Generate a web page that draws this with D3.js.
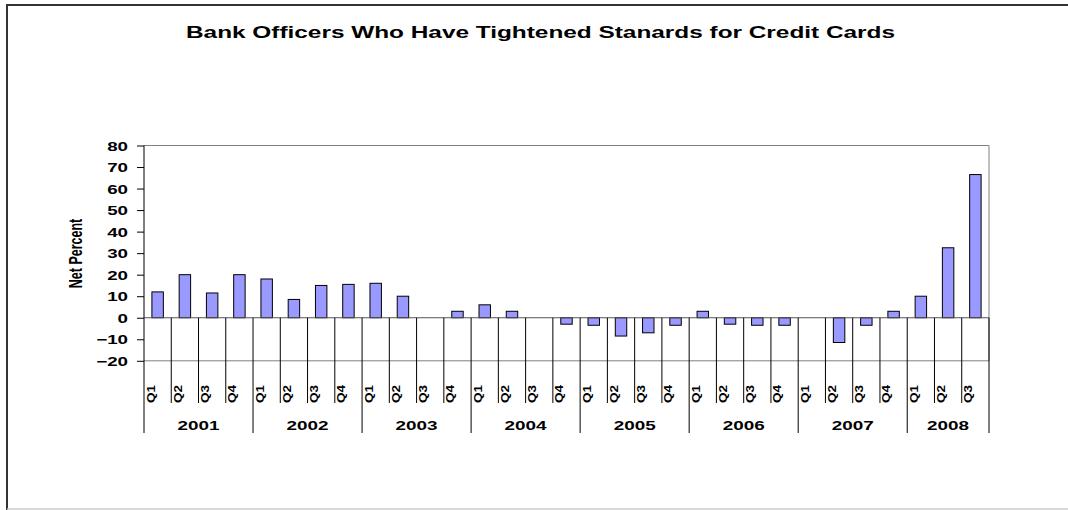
<!DOCTYPE html>
<html>
<head>
<meta charset="utf-8">
<script src="https://cdn.jsdelivr.net/npm/d3@7"></script>
<style>
  html, body { margin: 0; padding: 0; background: #fff; }
  svg { display: block; font-family: Arial, "Liberation Sans", sans-serif; }
</style>
</head>
<body>
<svg id="chart" width="1068" height="510"></svg>
<script>
const title = "Bank Officers Who Have Tightened Stanards for Credit Cards";
const yLabel = "Net Percent";
const years = ["2001","2002","2003","2004","2005","2006","2007","2008"];
const quarters = ["Q1","Q2","Q3","Q4"];
const quartersPerYear = [4,4,4,4,4,4,4,3];
const values = [12, 20, 11.5, 20,
                18, 8.5, 15, 15.5,
                16, 10, 0, 3,
                6, 3, 0, -3,
                -3.5, -8.5, -7, -3.5,
                3, -3, -3.5, -3.5,
                0, -11.5, -3.5, 3,
                10, 32.5, 66.5];
const yTicks = [-20, -10, 0, 10, 20, 30, 40, 50, 60, 70, 80];

// build category table
const cats = [];
years.forEach((y, i) => {
  for (let q = 0; q < quartersPerYear[i]; q++) cats.push({year: y, q: quarters[q]});
});
cats.forEach((c, i) => { c.value = values[i]; c.id = c.year + "-" + c.q; });

const svg = d3.select("#chart");
const L = 144, R = 989, T = 145.5, B = 360.8;
const x = d3.scaleBand().domain(cats.map(d => d.id)).range([L, R]).padding(0);
const y = d3.scaleLinear().domain([-20, 80]).range([B, T]);
const sx = 1.5;

// outer frame
svg.append("line").attr("x1", 7).attr("x2", 1068).attr("y1", 5).attr("y2", 5).attr("stroke", "#333").attr("stroke-width", 2);
svg.append("line").attr("x1", 7).attr("x2", 7).attr("y1", 4).attr("y2", 510).attr("stroke", "#333").attr("stroke-width", 2);
svg.append("line").attr("x1", 7).attr("x2", 1068).attr("y1", 509).attr("y2", 509).attr("stroke", "#ccc").attr("stroke-width", 1.5);

// title
svg.append("text")
  .attr("x", 540.5).attr("y", 37.5)
  .attr("text-anchor", "middle")
  .attr("font-size", 17).attr("font-weight", "bold")
  .attr("textLength", 709).attr("lengthAdjust", "spacingAndGlyphs")
  .text(title);

// plot area border (top, right, bottom)
svg.append("line").attr("x1", L).attr("x2", R).attr("y1", y(80)).attr("y2", y(80)).attr("stroke", "#808080");
svg.append("line").attr("x1", L).attr("x2", R).attr("y1", y(-20)).attr("y2", y(-20)).attr("stroke", "#808080");
svg.append("line").attr("x1", R).attr("x2", R).attr("y1", y(80)).attr("y2", y(-20)).attr("stroke", "#808080");

// bars
const bw = x.bandwidth() * 0.42;
svg.append("g").selectAll("rect").data(cats.filter(d => d.value !== 0)).join("rect")
  .attr("x", d => x(d.id) + (x.bandwidth() - bw) / 2)
  .attr("y", d => y(Math.max(0, d.value)))
  .attr("width", bw)
  .attr("height", d => Math.abs(y(d.value) - y(0)))
  .attr("fill", "#9999FF")
  .attr("stroke", "#000").attr("stroke-width", 1);

// zero line
svg.append("line").attr("x1", L).attr("x2", R).attr("y1", y(0)).attr("y2", y(0)).attr("stroke", "#555");

// y axis
const yAxis = svg.append("g").attr("transform", `translate(${L},0)`)
  .call(d3.axisLeft(y).tickValues(yTicks).tickSize(7).tickSizeOuter(0).tickFormat(d3.format("d")));
yAxis.select(".domain").remove();
yAxis.selectAll(".tick line").attr("stroke", "#000");
yAxis.selectAll(".tick text")
  .attr("font-size", 12.5).attr("font-weight", "bold").attr("font-family", "Arial, 'Liberation Sans', sans-serif")
  .attr("fill", "#000")
  .attr("x", -16 / sx).attr("dy", "0.36em")
  .attr("transform", `scale(${sx},1)`);
svg.append("line").attr("x1", L).attr("x2", L).attr("y1", y(80)).attr("y2", 433).attr("stroke", "#000");

// category separators
const yearStarts = new Set();
let acc = 0;
quartersPerYear.forEach(n => { yearStarts.add(acc); acc += n; });
yearStarts.add(acc);
const bounds = d3.range(1, cats.length + 1);
svg.append("g").selectAll("line").data(bounds).join("line")
  .attr("x1", i => i < cats.length ? x(cats[i].id) : R)
  .attr("x2", i => i < cats.length ? x(cats[i].id) : R)
  .attr("y1", y(0))
  .attr("y2", i => yearStarts.has(i) ? 433 : 403)
  .attr("stroke", "#000");

// quarter labels
svg.append("g").selectAll("text").data(cats).join("text")
  .attr("transform", d => `translate(${x(d.id) + 10.5},403) rotate(-90)`)
  .attr("font-size", 10.5).attr("font-weight", "bold")
  .attr("textLength", 18).attr("lengthAdjust", "spacingAndGlyphs")
  .text(d => d.q);

// year labels
const yearGroups = years.map(yr => {
  const ids = cats.filter(c => c.year === yr).map(c => c.id);
  return {year: yr, cx: (x(ids[0]) + x(ids[ids.length - 1]) + x.bandwidth()) / 2};
});
svg.append("g").selectAll("text").data(yearGroups).join("text")
  .attr("transform", d => `translate(${d.cx},429.5) scale(1.4,1)`)
  .attr("text-anchor", "middle")
  .attr("font-size", 13.5).attr("font-weight", "bold")
  .text(d => d.year);

// y label
svg.append("text")
  .attr("transform", `translate(81.5,253.5) scale(${sx},1) rotate(-90)`)
  .attr("text-anchor", "middle")
  .attr("font-size", 12.5).attr("font-weight", "bold")
  .text(yLabel);
</script>
</body>
</html>
